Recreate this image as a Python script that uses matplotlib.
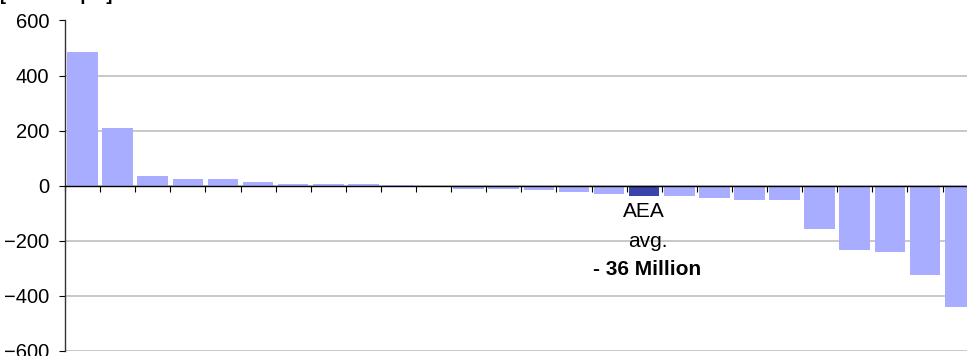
import matplotlib
matplotlib.use("Agg")
import matplotlib.pyplot as plt

plt.rcParams['font.family'] = ['Liberation Sans', 'DejaVu Sans']

# change per region, sorted from largest gain to largest loss
values = [487, 210, 35, 26, 26, 12, 5, 5, 5, 4, 0, -10, -10, -16, -23, -31,
          -36, -37, -45, -52, -52, -157, -232, -240, -323, -442]
avg_index = 16   # the AEA average bar
avg_value = values[avg_index]

light = "#A9ADFF"
dark = "#3B44A8"
colors = [dark if i == avg_index else light for i in range(len(values))]

W, H = 967, 356
fig = plt.figure(figsize=(W / 100, H / 100), dpi=100)
# plot area runs slightly past the right edge of the image
ax = fig.add_axes([65 / W, 5 / H, (26 * 35.1) / W, 330.5 / H])

x = [i + 0.5 for i in range(len(values))]
ax.bar(x, values, width=0.87, color=colors, zorder=2)

ax.set_xlim(0, len(values))
ax.set_ylim(-600, 600)
ax.set_yticks(range(-600, 601, 200))
ax.set_xticks(range(len(values) + 1))
ax.set_xticklabels([])

ax.yaxis.grid(True, color="#C8C8C8", linewidth=1.4, zorder=0)
ax.set_axisbelow(True)

for side in ("top", "right"):
    ax.spines[side].set_visible(False)
ax.spines["bottom"].set_position(("data", 0))
ax.spines["bottom"].set_zorder(3)
ax.spines["bottom"].set_linewidth(1.0)
ax.spines["left"].set_linewidth(1.0)
ax.spines["left"].set_color("#333333")

ax.tick_params(axis="y", direction="out", length=4.3, width=0.8, pad=7,
               labelsize=14.5, colors="black")
ax.tick_params(axis="x", direction="out", length=4, width=0.8)

# average annotation under the dark bar
ax.text(avg_index + 0.5, -113, "AEA", ha="center", va="baseline", fontsize=15)
ax.text(avg_index + 0.62, -222, "avg.", ha="center", va="baseline", fontsize=15)
ax.text(avg_index + 0.57, -325, f"- {abs(avg_value)} Million", ha="center",
        va="baseline", fontsize=15, fontweight="bold")

fig.text(0.0, 1.0 + 0.5 / H, "[Mio. People]", ha="left", va="baseline",
         fontsize=13, fontweight="bold")

fig.savefig("out.png", dpi=100)
